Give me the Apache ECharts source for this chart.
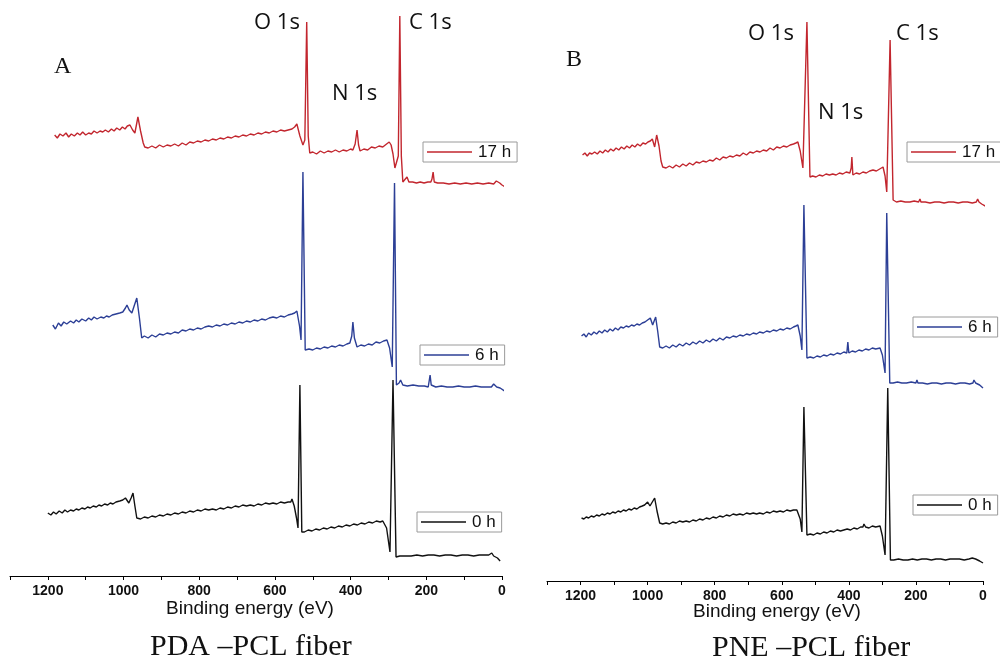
<!DOCTYPE html>
<html>
<head>
<meta charset="utf-8">
<script src="https://cdn.jsdelivr.net/npm/echarts@6/dist/echarts.min.js"></script>
<style>html,body{margin:0;padding:0;background:#fff}#c{width:1000px;height:668px}</style>
</head>
<body>
<div id="c"></div>
<script>
// Binding energy (eV) vs. intensity (a.u., traces stacked with offsets)
const seriesNames = ['17 h', '6 h', '0 h'];
const xTicks = [0, 200, 400, 600, 800, 1000, 1200];

const redA = [[1182,441],[1175,438],[1168,442],[1160,440],[1152,443],[1145,439],[1138,442],[1130,440],[1122,443],[1115,441],[1108,444],[1100,441],[1092,443],[1085,442],[1078,445],[1070,443],[1062,445],[1055,444],[1048,446],[1040,444],[1032,447],[1025,445],[1018,448],[1010,446],[1003,449],[996,447],[990,450],[983,451],[976,446],[970,443],[962,459],[955,445],[948,433],[944,429],[935,428],[925,430],[915,428],[905,431],[895,429],[885,431],[875,430],[865,432],[855,430],[845,433],[835,431],[825,434],[815,433],[805,435],[795,434],[785,436],[775,435],[765,437],[755,436],[745,438],[735,437],[725,439],[715,438],[705,440],[695,439],[685,441],[675,440],[665,442],[655,441],[645,443],[635,442],[625,444],[615,443],[605,445],[595,444],[585,446],[575,445],[565,446],[555,447],[548,449],[542,452],[534,440],[526,431],[521,436],[516,554],[512,440],[508,423],[500,424],[490,422],[480,425],[470,423],[460,425],[450,424],[440,426],[430,424],[420,426],[410,425],[400,427],[394,426],[388,432],[383,446],[379,431],[375,425],[365,427],[355,426],[345,429],[335,428],[325,430],[315,429],[305,432],[298,434],[293,431],[288,422],[283,408],[278,406],[274,420],[270,560],[266,420],[262,394],[257,396],[251,399],[246,394],[236,394],[226,393],[216,394],[206,393],[196,394],[188,394],[185,397],[182,404],[179,394],[170,393],[155,393],[140,392],[125,393],[110,392],[95,393],[80,392],[65,393],[50,392],[35,393],[22,392],[15,395],[11,396],[6,393],[0,391],[-13,388]];

const blueA = [[1187,251],[1180,247],[1172,253],[1165,250],[1158,254],[1150,252],[1140,255],[1132,253],[1125,256],[1118,254],[1110,257],[1100,255],[1092,258],[1085,256],[1078,259],[1070,257],[1060,259],[1052,258],[1045,260],[1038,259],[1030,261],[1020,262],[1010,263],[1002,264],[995,268],[991,271],[985,266],[978,263],[972,270],[965,278],[958,258],[952,238],[945,240],[935,238],[925,241],[915,239],[905,242],[895,241],[885,243],[875,242],[865,244],[855,243],[845,246],[835,245],[825,247],[815,246],[805,248],[795,247],[785,249],[775,250],[765,249],[755,251],[745,250],[735,252],[725,251],[715,253],[705,252],[695,254],[685,253],[675,255],[665,254],[655,256],[645,255],[635,257],[625,256],[615,258],[605,259],[595,258],[585,260],[575,259],[565,261],[555,262],[548,263],[542,265],[535,250],[531,236],[526,404],[520,226],[510,227],[500,226],[490,228],[480,227],[470,229],[460,228],[450,230],[440,229],[430,231],[420,230],[410,232],[402,233],[397,240],[394,254],[390,238],[383,229],[373,231],[363,230],[353,232],[343,231],[333,234],[323,233],[313,235],[304,236],[297,228],[290,209],[284,393],[279,191],[272,193],[268,196],[262,191],[250,190],[235,191],[220,190],[205,190],[195,189],[192,196],[190,201],[187,191],[175,189],[160,190],[145,189],[130,189],[115,190],[100,189],[85,189],[70,190],[55,189],[40,189],[28,189],[22,192],[19,193],[14,189],[5,188],[-7,185]];

const blackA = [[1200,63],[1192,61],[1185,64],[1178,62],[1170,65],[1162,63],[1155,66],[1148,64],[1140,66],[1132,65],[1125,67],[1118,66],[1110,68],[1102,67],[1095,69],[1088,68],[1080,70],[1072,69],[1065,71],[1058,70],[1050,72],[1042,71],[1035,73],[1028,72],[1020,74],[1010,75],[1002,76],[995,78],[991,79],[986,73],[980,78],[975,83],[970,70],[965,58],[955,57],[945,59],[935,58],[925,60],[915,59],[905,61],[895,60],[885,62],[875,61],[865,63],[855,62],[845,64],[835,63],[825,65],[815,64],[805,66],[795,65],[785,67],[775,66],[765,67],[755,66],[745,68],[735,67],[725,69],[715,68],[705,70],[695,69],[685,71],[675,70],[665,71],[655,70],[645,72],[635,71],[625,73],[615,72],[605,73],[595,72],[585,74],[575,73],[565,74],[558,74],[555,77],[549,70],[543,58],[539,48],[534,191],[529,44],[522,44],[512,46],[502,45],[492,47],[482,46],[472,48],[462,47],[452,49],[442,48],[432,50],[422,49],[412,51],[402,50],[392,52],[382,51],[372,53],[362,52],[352,54],[342,53],[332,55],[322,54],[315,55],[310,56],[305,48],[296,24],[288,196],[280,19],[270,20],[255,20],[240,20],[225,21],[210,20],[195,21],[180,21],[165,20],[150,21],[135,21],[120,20],[105,21],[90,21],[75,20],[60,21],[45,21],[35,21],[30,22],[27,23],[22,20],[12,18],[5,15]];

const redB = [[1194,426],[1187,428],[1180,425],[1173,428],[1166,427],[1158,429],[1150,427],[1142,430],[1134,428],[1126,431],[1118,429],[1110,432],[1102,430],[1094,433],[1086,431],[1078,434],[1070,432],[1062,435],[1054,433],[1046,436],[1038,434],[1030,437],[1022,435],[1014,438],[1006,437],[999,439],[992,440],[986,442],[979,434],[973,446],[966,435],[960,420],[955,414],[945,413],[935,415],[925,413],[915,416],[905,414],[895,417],[885,415],[875,418],[865,416],[855,419],[845,418],[835,420],[825,419],[815,421],[805,420],[795,423],[785,421],[775,424],[765,423],[755,425],[745,424],[735,426],[725,425],[715,428],[705,426],[695,429],[685,428],[675,430],[665,429],[655,431],[645,430],[635,433],[625,431],[615,434],[605,433],[595,435],[585,434],[575,436],[565,437],[558,438],[552,439],[545,430],[537,413],[525,559],[516,404],[508,405],[498,404],[488,406],[478,405],[468,407],[458,406],[448,407],[438,406],[428,408],[418,407],[408,409],[397,408],[393,413],[391,424],[388,406],[378,408],[368,407],[358,409],[348,408],[338,410],[328,411],[318,410],[308,412],[298,414],[292,405],[287,389],[277,541],[268,381],[258,379],[245,380],[232,379],[218,379],[205,380],[192,379],[188,382],[185,379],[172,379],[158,378],[144,379],[130,379],[116,378],[102,379],[88,379],[74,378],[60,379],[46,379],[32,378],[20,379],[16,382],[12,379],[4,377],[-12,374]];

const blueB = [[1197,245],[1190,247],[1183,244],[1176,248],[1168,246],[1160,249],[1152,247],[1144,250],[1136,248],[1128,251],[1120,249],[1112,252],[1104,250],[1096,253],[1088,251],[1080,254],[1072,253],[1064,255],[1056,254],[1048,256],[1040,255],[1032,257],[1024,256],[1016,258],[1008,259],[1000,261],[992,263],[985,256],[976,264],[970,250],[964,234],[955,233],[945,235],[935,233],[925,236],[915,234],[905,237],[895,235],[885,238],[875,236],[865,239],[855,237],[845,240],[835,238],[825,241],[815,239],[805,242],[795,240],[785,243],[775,241],[765,244],[755,243],[745,245],[735,244],[725,246],[715,245],[705,247],[695,246],[685,248],[675,247],[666,249],[655,248],[645,250],[635,249],[625,251],[615,250],[605,252],[595,251],[585,253],[575,252],[565,254],[558,255],[552,256],[545,245],[540,231],[534,376],[525,223],[515,224],[505,223],[495,225],[485,224],[475,226],[465,225],[455,227],[445,226],[435,228],[425,227],[415,229],[406,228],[403,239],[400,228],[390,230],[380,229],[370,231],[360,230],[350,232],[340,231],[330,233],[320,232],[307,233],[300,226],[292,208],[287,368],[278,198],[268,198],[255,199],[242,198],[228,198],[214,199],[200,198],[197,201],[194,198],[180,198],[166,197],[152,198],[138,198],[124,197],[110,198],[96,198],[82,197],[68,198],[54,198],[40,197],[30,198],[27,201],[22,198],[10,196],[0,193]];

const blackB = [[1197,63],[1190,62],[1183,64],[1176,63],[1168,65],[1160,64],[1152,66],[1144,65],[1136,67],[1128,66],[1120,68],[1112,67],[1104,69],[1096,68],[1088,70],[1080,69],[1072,71],[1064,70],[1056,72],[1048,71],[1040,73],[1032,72],[1024,74],[1016,75],[1009,76],[1004,78],[1000,79],[993,75],[988,73],[979,83],[972,70],[964,58],[955,57],[945,58],[935,57],[925,59],[915,58],[905,60],[895,59],[885,60],[875,59],[865,61],[855,60],[845,62],[835,61],[825,63],[815,62],[805,64],[795,63],[785,65],[775,64],[765,66],[755,65],[745,67],[735,66],[725,67],[715,66],[705,68],[695,67],[685,68],[675,67],[666,68],[655,67],[645,69],[635,68],[625,70],[615,69],[605,70],[595,69],[585,71],[575,70],[565,71],[555,71],[545,62],[540,49],[534,174],[525,46],[515,47],[505,46],[495,48],[485,47],[475,49],[465,48],[455,50],[445,49],[435,51],[425,50],[415,51],[405,52],[395,51],[385,53],[375,52],[365,54],[358,54],[355,57],[350,54],[340,53],[330,55],[320,54],[307,55],[300,45],[292,26],[284,193],[276,21],[266,21],[252,22],[238,21],[224,21],[210,22],[196,21],[182,22],[168,22],[154,21],[140,22],[126,22],[112,21],[98,22],[84,22],[70,22],[56,21],[42,22],[32,23],[27,25],[22,22],[10,20],[0,18]];

const colors = ['#c2262e', '#2c3f96', '#111111'];

const chart = echarts.init(document.getElementById('c'), null, {renderer: 'canvas'});

function xAxisFor(gridIndex) {
  return {
    type: 'value', gridIndex: gridIndex, min: 0, max: 1300, interval: 100, inverse: true,
    axisLine: {show: true, onZero: false, lineStyle: {color: '#000', width: 1}},
    axisTick: {show: true, length: 4, lineStyle: {color: '#000'}},
    axisLabel: {
      color: '#111', fontSize: 14, fontWeight: 'bold', fontFamily: 'Liberation Sans, Arial', margin: 8,
      formatter: v => (xTicks.indexOf(v) >= 0 ? String(v) : '')
    },
    splitLine: {show: false}
  };
}
function yAxisFor(gridIndex, max) {
  return {type: 'value', gridIndex: gridIndex, min: 0, max: max, show: false};
}
function lineSeries(name, data, color, idx) {
  return {
    name: name, type: 'line', xAxisIndex: idx, yAxisIndex: idx, data: data,
    showSymbol: false, symbol: 'none', clip: false, smooth: false,
    lineStyle: {color: color, width: 1.4}, itemStyle: {color: color}
  };
}
function legendBox(name, left, top) {
  return {
    data: [name], left: left, top: top, orient: 'horizontal', selectedMode: false,
    icon: 'rect', itemWidth: 45, itemHeight: 1.6, itemGap: 0,
    borderColor: '#9a9a9a', borderWidth: 1, borderRadius: 0, padding: [1, 6, 1, 4],
    textStyle: {fontSize: 17, color: '#111', fontFamily: 'Liberation Sans, Arial', padding: [0, 0, 0, 1], lineHeight: 18}
  };
}

const sansLabel = {fontFamily: 'Open Sans, Noto Sans', fontSize: 22, fill: '#111'};
const serif = 'Liberation Serif, Times New Roman, serif';

chart.setOption({
  animation: false,
  backgroundColor: '#fff',
  grid: [
    {left: 10, right: 498, top: 10, bottom: 92, containLabel: false},
    {left: 547, right: 17, top: 10, bottom: 87, containLabel: false}
  ],
  xAxis: [xAxisFor(0), xAxisFor(1)],
  yAxis: [yAxisFor(0, 566), yAxisFor(1, 571)],
  legend: [
    legendBox(seriesNames[0], 423, 142),
    legendBox(seriesNames[1], 420, 345),
    legendBox(seriesNames[2], 417, 512),
    legendBox(seriesNames[0], 907, 142),
    legendBox(seriesNames[1], 913, 317),
    legendBox(seriesNames[2], 913, 495)
  ],
  series: [
    lineSeries(seriesNames[0], redA, colors[0], 0),
    lineSeries(seriesNames[1], blueA, colors[1], 0),
    lineSeries(seriesNames[2], blackA, colors[2], 0),
    lineSeries(seriesNames[0], redB, colors[0], 1),
    lineSeries(seriesNames[1], blueB, colors[1], 1),
    lineSeries(seriesNames[2], blackB, colors[2], 1)
  ],
  graphic: [
    {type: 'text', left: 254, top: 12, style: Object.assign({text: 'O 1s'}, sansLabel)},
    {type: 'text', left: 409, top: 12, style: Object.assign({text: 'C 1s'}, sansLabel)},
    {type: 'text', left: 332, top: 83, style: Object.assign({text: 'N 1s'}, sansLabel)},
    {type: 'text', left: 748, top: 23, style: Object.assign({text: 'O 1s'}, sansLabel)},
    {type: 'text', left: 896, top: 23, style: Object.assign({text: 'C 1s'}, sansLabel)},
    {type: 'text', left: 818, top: 102, style: Object.assign({text: 'N 1s'}, sansLabel)},
    {type: 'text', left: 54, top: 55, style: {text: 'A', fontFamily: serif, fontSize: 24, fill: '#111'}},
    {type: 'text', left: 566, top: 48, style: {text: 'B', fontFamily: serif, fontSize: 24, fill: '#111'}},
    {type: 'text', left: 166, top: 599, style: {text: 'Binding energy (eV)', fontFamily: 'Liberation Sans, Arial', fontSize: 19, fill: '#111'}},
    {type: 'text', left: 693, top: 602, style: {text: 'Binding energy (eV)', fontFamily: 'Liberation Sans, Arial', fontSize: 19, fill: '#111'}},
    {type: 'text', left: 150, top: 632, style: {text: 'PDA \u2013PCL fiber', fontFamily: serif, fontSize: 30, fill: '#111'}},
    {type: 'text', left: 712, top: 633, style: {text: 'PNE \u2013PCL fiber', fontFamily: serif, fontSize: 30, fill: '#111'}}
  ]
});
</script>
</body>
</html>
